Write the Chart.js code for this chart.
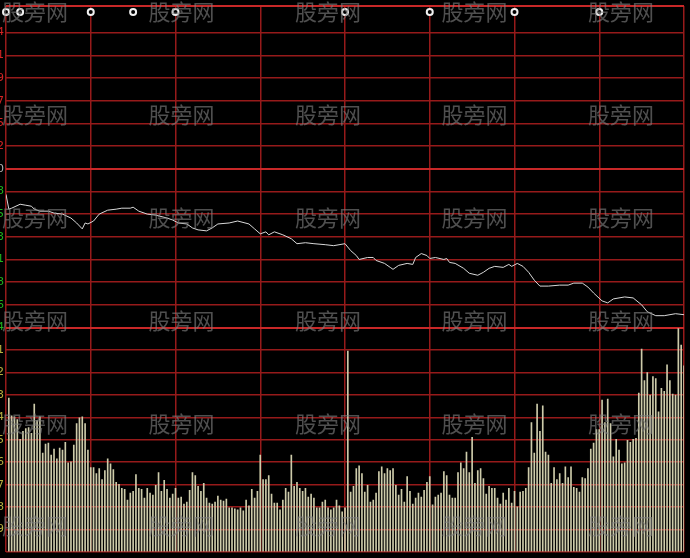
<!DOCTYPE html>
<html>
<head>
<meta charset="utf-8">
<script src="https://cdn.jsdelivr.net/npm/chart.js@4.4.1/dist/chart.umd.min.js"></script>
<style>
  html, body { margin: 0; padding: 0; background: #000; overflow: hidden; }
  canvas { display: block; }
</style>
</head>
<body>
<canvas id="chart" width="690" height="558" style="width:690px;height:558px"></canvas>
<script>
// minutes after the open (0 = 9:30, 120 = 11:30/13:00, 240 = 15:00)
const lineMinutes = [0, 1, 2, 5, 7, 9, 10, 12, 15, 17, 20, 23, 25, 27, 28, 29, 31, 33, 36, 39,
  41, 44, 45, 47, 50, 53, 57, 59, 61, 64, 66, 68, 71, 73, 75, 79, 82, 86, 88, 90,
  92, 93, 95, 98, 101, 103, 106, 109, 113, 116, 120, 122, 124, 125, 128, 130, 131, 134, 136, 137,
  139, 142, 144, 145, 147, 149, 150, 152, 155, 156, 157, 159, 162, 164, 167, 169, 171, 173, 176, 178,
  179, 181, 183, 185, 187, 189, 192, 196, 199, 201, 204, 206, 208, 211, 213, 215, 219, 222, 225, 227,
  230, 233, 237, 240];
const linePrices = [12.574, 12.559, 12.560, 12.564, 12.563, 12.562, 12.559, 12.557, 12.557, 12.555,
  12.554, 12.550, 12.545, 12.539, 12.545, 12.544, 12.547, 12.554, 12.558, 12.559,
  12.560, 12.560, 12.561, 12.557, 12.554, 12.553, 12.550, 12.548, 12.545, 12.544,
  12.540, 12.538, 12.537, 12.540, 12.544, 12.545, 12.547, 12.544, 12.539, 12.534,
  12.536, 12.533, 12.536, 12.533, 12.529, 12.524, 12.525, 12.524, 12.523, 12.522,
  12.524, 12.517, 12.512, 12.508, 12.510, 12.510, 12.507, 12.504, 12.500, 12.498,
  12.502, 12.504, 12.503, 12.510, 12.514, 12.512, 12.509, 12.510, 12.508, 12.509,
  12.505, 12.504, 12.499, 12.494, 12.492, 12.495, 12.499, 12.501, 12.500, 12.503,
  12.501, 12.504, 12.501, 12.495, 12.487, 12.481, 12.481, 12.482, 12.482, 12.484,
  12.484, 12.480, 12.474, 12.466, 12.464, 12.468, 12.470, 12.469, 12.462, 12.455,
  12.451, 12.451, 12.453, 12.452];

const prevClose = 12.60;
const priceTicks = [12.439, 12.462, 12.485, 12.508, 12.531, 12.554, 12.577, 12.600,
  12.623, 12.646, 12.669, 12.692, 12.715, 12.738];
const priceTop = 12.765;

// one bar per minute, minutes 1..240
const volumes = [1570, 1390, 1380, 1350, 1150, 1230, 1260, 1270, 1210, 1510,
  1340, 1380, 1010, 1100, 1110, 990, 1050, 950, 1060, 1040,
  1120, 910, 920, 1090, 1310, 1370, 1380, 1310, 1040, 860,
  860, 800, 850, 740, 830, 950, 900, 840, 710, 690,
  650, 640, 530, 600, 620, 790, 650, 640, 550, 650,
  600, 580, 680, 810, 620, 730, 640, 550, 590, 650,
  550, 560, 490, 510, 630, 810, 780, 670, 620, 700,
  550, 500, 490, 510, 570, 530, 520, 540, 450, 450,
  440, 430, 450, 420, 530, 470, 640, 550, 620, 990,
  740, 740, 780, 590, 500, 500, 430, 530, 650, 610,
  990, 670, 710, 650, 620, 650, 560, 590, 550, 450,
  450, 510, 530, 450, 430, 450, 530, 470, 410, 450,
  2050, 610, 670, 850, 880, 800, 610, 680, 510, 530,
  600, 820, 870, 800, 850, 830, 850, 680, 580, 640,
  510, 770, 620, 490, 550, 600, 560, 630, 710, 770,
  480, 560, 580, 600, 820, 780, 580, 550, 550, 810,
  910, 850, 1020, 810, 1170, 700, 830, 850, 750, 590,
  670, 650, 650, 550, 490, 600, 530, 650, 500, 620,
  460, 610, 620, 650, 860, 1320, 1010, 1510, 1230, 1490,
  1020, 990, 700, 860, 740, 800, 700, 870, 760, 870,
  660, 650, 610, 760, 750, 850, 1050, 1110, 1250, 1250,
  1550, 1320, 1560, 1310, 970, 1150, 1040, 900, 910, 1140,
  1120, 1150, 1160, 1620, 2070, 1750, 1830, 1600, 1790, 1770,
  1430, 1670, 1640, 1910, 1750, 1610, 1600, 2280, 2110, 1900];
const volumeMax = 2290;
const volumeStep = 229;

// info markers along the top edge
const eventMinutes = [0, 5, 30, 45, 60, 120, 150, 180, 210];
const eventLevel = 12.759;

const thinRed = '#961a1a';
const thickRed = '#c82828';

function isThickPrice(v) {
  return Math.abs(v - prevClose) < 0.0001 || Math.abs(v - priceTicks[0]) < 0.0001 || Math.abs(v - priceTop) < 0.0001;
}

// left labels sit mostly outside the crop, only their last glyph shows
const axisLabels = {
  id: 'axisLabels',
  afterDraw(chart) {
    const ctx = chart.ctx;
    const price = chart.scales.price;
    const vol = chart.scales.vol;
    ctx.save();
    ctx.font = '11px "DejaVu Sans"';
    ctx.textAlign = 'right';
    ctx.textBaseline = 'middle';
    priceTicks.forEach(v => {
      ctx.fillStyle = v > prevClose + 0.0001 ? '#d42424' : (v < prevClose - 0.0001 ? '#1eb41e' : '#b4b4b4');
      ctx.fillText(v.toFixed(2), 4, price.getPixelForValue(v));
    });
    ctx.fillStyle = '#b8b040';
    for (let v = volumeStep; v < volumeMax; v += volumeStep) {
      ctx.fillText(String(v), 4, vol.getPixelForValue(v));
    }
    ctx.restore();
  }
};

// site watermark tiled over the picture
const watermark = {
  id: 'watermark',
  afterDraw(chart) {
    const ctx = chart.ctx;
    ctx.save();
    ctx.font = '22px "Noto Sans CJK SC"';
    ctx.textAlign = 'left';
    ctx.textBaseline = 'middle';
    ctx.fillStyle = 'rgba(128,128,128,0.62)';
    for (let r = 0; r < 6; r++) {
      for (let c = 0; c < 5; c++) {
        ctx.fillText('股旁网', 2 + c * 146.5, 12 + r * 102.8);
      }
    }
    ctx.restore();
  }
};

new Chart(document.getElementById('chart'), {
  type: 'bar',
  data: {
    datasets: [
      {
        type: 'line',
        data: lineMinutes.map((m, i) => ({ x: m, y: linePrices[i] })),
        yAxisID: 'price',
        borderColor: '#d8d8d8',
        borderWidth: 1,
        pointRadius: 0,
        tension: 0
      },
      {
        type: 'scatter',
        data: eventMinutes.map(m => ({ x: m, y: eventLevel })),
        yAxisID: 'price',
        pointStyle: 'circle',
        pointRadius: 3,
        backgroundColor: '#000',
        borderColor: '#f0f0f0',
        borderWidth: 2,
        clip: false
      },
      {
        data: volumes.map((v, i) => ({ x: i + 1, y: v })),
        yAxisID: 'vol',
        backgroundColor: '#cdcbaa',
        barThickness: 1
      }
    ]
  },
  options: {
    responsive: false,
    devicePixelRatio: 1,
    animation: false,
    layout: { padding: { left: 5, top: 1, right: 0, bottom: 0 } },
    plugins: {
      legend: { display: false },
      tooltip: { enabled: false }
    },
    scales: {
      x: {
        type: 'linear',
        min: 0,
        max: 240,
        offset: false,
        ticks: { display: false, stepSize: 30 },
        border: { display: false },
        grid: { offset: false, drawTicks: false, color: thinRed, lineWidth: 1.5 }
      },
      vol: {
        type: 'linear',
        position: 'left',
        stack: 'pane',
        stackWeight: 229,
        min: 0,
        max: volumeMax,
        ticks: { display: false, stepSize: volumeStep },
        border: { display: false },
        grid: {
          drawTicks: false,
          color: ctx => ctx.tick && ctx.tick.value >= volumeMax ? thickRed : thinRed,
          lineWidth: ctx => ctx.tick && ctx.tick.value >= volumeMax ? 2 : 1.5
        }
      },
      price: {
        type: 'linear',
        position: 'left',
        stack: 'pane',
        stackWeight: 328,
        min: priceTicks[0],
        max: priceTop,
        afterBuildTicks: scale => {
          scale.ticks = priceTicks.concat([priceTop]).map(v => ({ value: v }));
        },
        ticks: { display: false },
        border: { display: false },
        grid: {
          drawTicks: false,
          color: ctx => ctx.tick && isThickPrice(ctx.tick.value) ? thickRed : thinRed,
          lineWidth: ctx => ctx.tick && isThickPrice(ctx.tick.value) ? 2 : 1.5
        }
      }
    }
  },
  plugins: [axisLabels, watermark]
});
</script>
</body>
</html>
